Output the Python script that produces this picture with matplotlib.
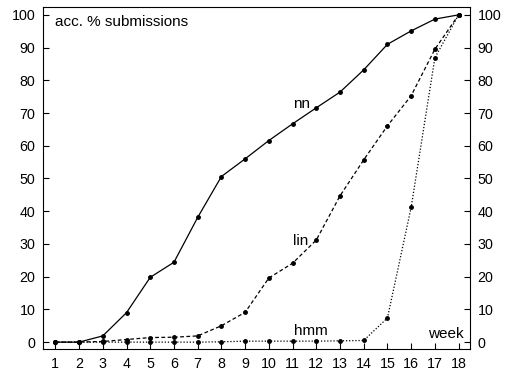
import matplotlib
matplotlib.use("Agg")
import matplotlib.pyplot as plt

plt.rcParams['font.family'] = ['Liberation Sans', 'DejaVu Sans']

weeks = list(range(1, 19))
nn = [0, 0, 1.9, 9.0, 19.8, 24.4, 38.1, 50.6, 56.0, 61.6, 66.7, 71.6, 76.4, 83.2, 91.0, 95.1, 98.7, 100]
lin = [0, 0, 0.2, 0.8, 1.4, 1.5, 1.9, 5.0, 9.1, 19.6, 24.1, 31.2, 44.7, 55.7, 66.1, 75.3, 89.5, 100]
hmm = [0, 0, 0, 0, 0, 0, 0, 0.1, 0.3, 0.3, 0.3, 0.3, 0.4, 0.5, 7.4, 41.2, 86.9, 100]
yticks = list(range(0, 101, 10))

fig = plt.figure(figsize=(5.11, 3.74), dpi=100)
ax = fig.add_axes([43 / 511, 1 - 349 / 374, 427 / 511, 342 / 374])

kw = dict(color='black', linewidth=0.9, marker='o', markersize=2.5)
ax.plot(weeks, nn, linestyle='-', **kw)
ax.plot(weeks, lin, linestyle=(0, (3, 2)), **kw)
ax.plot(weeks, hmm, linestyle=(0, (1, 1.5)), **kw)

ax.set_xlim(0.48, 18.48)
ax.set_ylim(-2.1, 102.4)
ax.set_xticks(weeks)
ax.set_yticks(yticks)
ax.tick_params(direction='in', length=4, width=0.8, labelsize=10.3,
               left=True, right=True, labelleft=True, labelright=True, top=False)
ax.tick_params(axis='y', which='both', pad=5.5)
ax.tick_params(axis='x', which='both', pad=6)
for s in ax.spines.values():
    s.set_linewidth(0.8)

fs = 11
ax.text(1.0, 97.9, "acc. % submissions", fontsize=fs, va='center', ha='left')
ax.text(11.73, 72.8, "nn", fontsize=fs, va='center', ha='right')
ax.text(11.65, 31.0, "lin", fontsize=fs, va='center', ha='right')
ax.text(11.78, 3.5, "hmm", fontsize=fs, va='center', ha='center')
ax.text(18.22, 2.4, "week", fontsize=fs, va='center', ha='right')

fig.savefig("out.png", dpi=100)
